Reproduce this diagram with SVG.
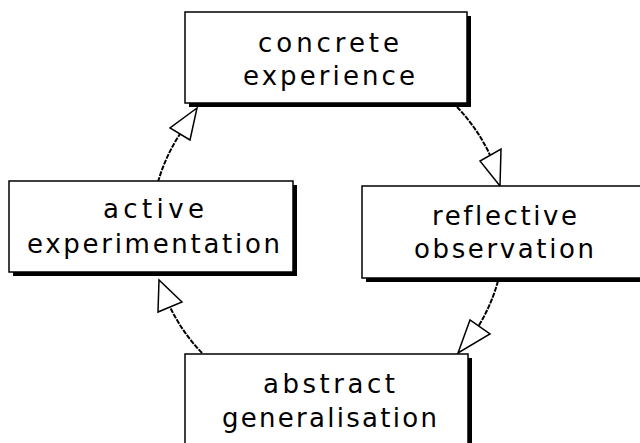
<svg xmlns="http://www.w3.org/2000/svg" width="640" height="443" viewBox="0 0 640 443">
<style>
.box{fill:#fff;stroke:#000;stroke-width:1.5}
.sh{fill:#000}
.t{font-family:"DejaVu Sans","Liberation Sans",Arial,sans-serif;font-size:26px;fill:#000;font-variant-ligatures:none}
.c{fill:none;stroke:#000;stroke-width:2;stroke-dasharray:5 1.2}
.ah{fill:#fff;stroke:#000;stroke-width:1.5;stroke-linejoin:miter}
</style>
<rect width="640" height="443" fill="#fff"/>
<g id="connectors">
<path class="c" d="M457,107 A178,178 0 0 1 490,155"/>
<polygon class="ah" points="500,186 480,161 501,149"/>
<path class="c" d="M498,281 A178,178 0 0 1 478,327"/>
<polygon class="ah" points="458,353 470,320 490,334"/>
<path class="c" d="M202,353 A176,176 0 0 1 170,307"/>
<polygon class="ah" points="159,280 158,312 182,302"/>
<path class="c" d="M158,182 A176,176 0 0 1 180,134"/>
<polygon class="ah" points="197,108 170,128 190,140"/>
</g>
<g id="concrete-experience">
<rect class="sh" x="189" y="16" width="282" height="91"/>
<rect class="box" x="185" y="12" width="282" height="91"/>
<text class="t" x="258" y="52" textLength="141" lengthAdjust="spacing">concrete</text>
<text class="t" x="243" y="85" textLength="172" lengthAdjust="spacing">experience</text>
</g>
<g id="reflective-observation">
<rect class="sh" x="366" y="190" width="280" height="92"/>
<rect class="box" x="362" y="186" width="284" height="92"/>
<text class="t" x="432" y="225" textLength="145" lengthAdjust="spacing">reflective</text>
<text class="t" x="414" y="258" textLength="180" lengthAdjust="spacing">observation</text>
</g>
<g id="abstract-generalisation">
<rect class="sh" x="189" y="358" width="283" height="100"/>
<rect class="box" x="185" y="354" width="283" height="100"/>
<text class="t" x="263" y="393" textLength="132" lengthAdjust="spacing">abstract</text>
<text class="t" x="222" y="427" textLength="215" lengthAdjust="spacing">generalisation</text>
</g>
<g id="active-experimentation">
<rect class="sh" x="13" y="185" width="284" height="91"/>
<rect class="box" x="9" y="181" width="284" height="91"/>
<text class="t" x="103" y="218" textLength="101" lengthAdjust="spacing">active</text>
<text class="t" x="27" y="253" textLength="253" lengthAdjust="spacing">experimentation</text>
</g>
</svg>
